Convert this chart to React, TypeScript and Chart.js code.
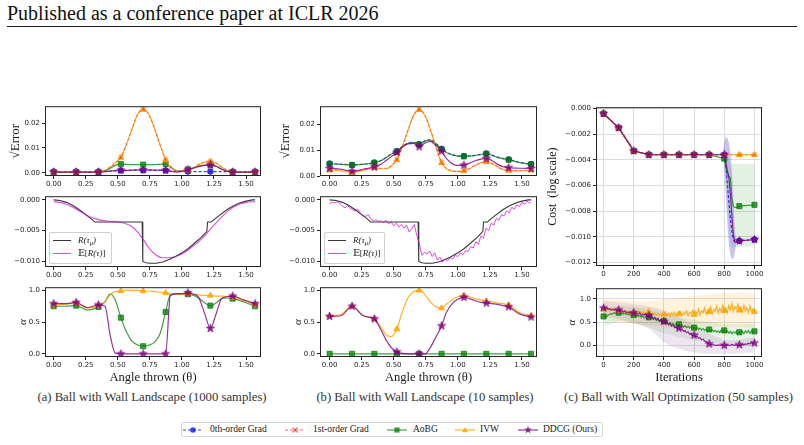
import React, { useEffect, useRef } from 'react';
import { Chart, registerables } from 'chart.js';

Chart.register(...registerables);

// ======================= DATA =======================
// Angle thrown (theta) sample positions for landscape curves
const thetaGrid = [0, 0.087, 0.175, 0.262, 0.349, 0.4, 0.44, 0.48, 0.524, 0.56, 0.61, 0.655, 0.698, 0.745, 0.785, 0.83, 0.873, 0.91, 0.96, 1.0, 1.047, 1.09, 1.13, 1.18, 1.222, 1.265, 1.31, 1.35, 1.396, 1.48, 1.571];
const thetaMarkers = [0, 0.175, 0.349, 0.524, 0.698, 0.873, 1.047, 1.222, 1.396, 1.571];
const thetaTicks = [0, 0.25, 0.5, 0.75, 1.0, 1.25, 1.5];

// (a) sqrt(Error), 1000 samples
const errA_zeroth = [0.0005, 0.0005, 0.0005, 0.0005, 0.0005, 0.0006, 0.0007, 0.0008, 0.0009, 0.0009, 0.0010, 0.0010, 0.0010, 0.0010, 0.0010, 0.0010, 0.0009, 0.0007, 0.0006, 0.0005, 0.0005, 0.0005, 0.0005, 0.0005, 0.0005, 0.0005, 0.0005, 0.0005, 0.0005, 0.0005, 0.0005];
const errA_first = [0.0003, 0.0003, 0.0003, 0.0003, 0.0004, 0.0010, 0.0022, 0.0040, 0.0062, 0.0105, 0.0175, 0.0235, 0.0256, 0.0232, 0.0180, 0.0112, 0.0052, 0.0022, 0.0008, 0.0006, 0.0010, 0.0020, 0.0033, 0.0044, 0.0048, 0.0041, 0.0024, 0.0011, 0.0004, 0.0003, 0.0003];
const errA_aobg = [0.0002, 0.0002, 0.0002, 0.0002, 0.0002, 0.0006, 0.0018, 0.0030, 0.0035, 0.0034, 0.0033, 0.0033, 0.0033, 0.0033, 0.0033, 0.0034, 0.0035, 0.0025, 0.0008, 0.0008, 0.0014, 0.0020, 0.0027, 0.0031, 0.0032, 0.0027, 0.0015, 0.0006, 0.0003, 0.0002, 0.0002];
const errA_ivw = [0.0003, 0.0003, 0.0003, 0.0003, 0.0004, 0.0010, 0.0022, 0.0040, 0.0062, 0.0105, 0.0175, 0.0235, 0.0255, 0.0232, 0.0180, 0.0112, 0.0052, 0.0022, 0.0007, 0.0006, 0.0010, 0.0020, 0.0032, 0.0042, 0.0045, 0.0038, 0.0022, 0.0010, 0.0004, 0.0003, 0.0003];
const errA_ddcg = [0.0003, 0.0003, 0.0003, 0.0003, 0.0003, 0.0004, 0.0007, 0.0009, 0.0010, 0.0010, 0.0011, 0.0012, 0.0012, 0.0012, 0.0011, 0.0011, 0.0010, 0.0006, 0.0003, 0.0006, 0.0012, 0.0018, 0.0025, 0.0030, 0.0031, 0.0026, 0.0014, 0.0006, 0.0003, 0.0003, 0.0003];

// (b) sqrt(Error), 10 samples
const errB_zeroth = [0.0048, 0.0046, 0.0043, 0.0046, 0.0052, 0.0060, 0.0072, 0.0085, 0.0096, 0.0112, 0.0127, 0.0130, 0.0123, 0.0137, 0.0140, 0.0125, 0.0105, 0.0092, 0.0082, 0.0078, 0.0077, 0.0078, 0.0080, 0.0084, 0.0087, 0.0081, 0.0073, 0.0068, 0.0064, 0.0053, 0.0046];
const errB_first = [0.0028, 0.0026, 0.0018, 0.0024, 0.0032, 0.0030, 0.0030, 0.0040, 0.0063, 0.0105, 0.0175, 0.0235, 0.0257, 0.0232, 0.0180, 0.0110, 0.0052, 0.0030, 0.0020, 0.0018, 0.0021, 0.0029, 0.0041, 0.0051, 0.0055, 0.0049, 0.0036, 0.0026, 0.0022, 0.0021, 0.0022];
const errB_aobg = [0.0047, 0.0045, 0.0042, 0.0045, 0.0051, 0.0059, 0.0071, 0.0084, 0.0095, 0.0111, 0.0126, 0.0129, 0.0122, 0.0136, 0.0139, 0.0124, 0.0103, 0.0091, 0.0081, 0.0077, 0.0076, 0.0077, 0.0079, 0.0083, 0.0086, 0.0080, 0.0072, 0.0067, 0.0063, 0.0052, 0.0045];
const errB_ivw = [0.0022, 0.0020, 0.0013, 0.0021, 0.0031, 0.0028, 0.0028, 0.0038, 0.0063, 0.0105, 0.0175, 0.0235, 0.0256, 0.0232, 0.0180, 0.0110, 0.0051, 0.0028, 0.0018, 0.0017, 0.0020, 0.0028, 0.0040, 0.0051, 0.0055, 0.0048, 0.0035, 0.0025, 0.0021, 0.0020, 0.0022];
const errB_ddcg = [0.0029, 0.0026, 0.0018, 0.0026, 0.0035, 0.0045, 0.0060, 0.0075, 0.0091, 0.0108, 0.0124, 0.0126, 0.0113, 0.0128, 0.0134, 0.0118, 0.0096, 0.0068, 0.0046, 0.0041, 0.0042, 0.0050, 0.0058, 0.0065, 0.0068, 0.0060, 0.0045, 0.0036, 0.0032, 0.0030, 0.0029];

// alpha, (a) and (b)
const alphaA_aobg = [0.75, 0.75, 0.76, 0.69, 0.74, 0.82, 0.94, 0.85, 0.57, 0.38, 0.20, 0.14, 0.12, 0.14, 0.18, 0.32, 0.66, 0.93, 0.94, 0.94, 0.94, 0.92, 0.88, 0.80, 0.76, 0.80, 0.87, 0.88, 0.87, 0.82, 0.75];
const alphaA_ivw = [0.77, 0.78, 0.80, 0.72, 0.76, 0.82, 0.93, 0.98, 0.99, 1.00, 1.00, 1.00, 0.99, 0.99, 0.98, 0.97, 0.96, 0.95, 0.94, 0.94, 0.95, 0.94, 0.93, 0.92, 0.92, 0.91, 0.91, 0.90, 0.89, 0.84, 0.77];
const alphaA_ddcg = [0.79, 0.79, 0.81, 0.73, 0.77, 0.75, 0.30, 0.01, 0.00, 0.00, 0.00, 0.00, 0.00, 0.00, 0.00, 0.00, 0.00, 0.92, 0.95, 0.95, 0.96, 0.94, 0.89, 0.62, 0.40, 0.62, 0.87, 0.90, 0.91, 0.85, 0.79];
const alphaB_aobg = [0, 0, 0, 0, 0, 0, 0, 0, 0, 0, 0, 0, 0, 0, 0, 0, 0, 0, 0, 0, 0, 0, 0, 0, 0, 0, 0, 0, 0, 0, 0];
const alphaB_ivw = [0.60, 0.62, 0.75, 0.60, 0.55, 0.42, 0.30, 0.27, 0.39, 0.62, 0.88, 0.98, 1.00, 0.93, 0.82, 0.74, 0.72, 0.78, 0.86, 0.90, 0.92, 0.90, 0.87, 0.85, 0.83, 0.82, 0.80, 0.79, 0.77, 0.65, 0.60];
const alphaB_ddcg = [0.59, 0.60, 0.75, 0.60, 0.55, 0.38, 0.22, 0.10, 0.03, 0.01, 0.00, 0.00, 0.00, 0.00, 0.10, 0.27, 0.44, 0.65, 0.80, 0.86, 0.89, 0.87, 0.84, 0.81, 0.80, 0.79, 0.78, 0.76, 0.74, 0.63, 0.58];

// Reward landscape R(tau_mu)
const rewardMuTheta = [0, 0.05, 0.10, 0.15, 0.20, 0.25, 0.30, 0.32, 0.40, 0.50, 0.60, 0.69, 0.695, 0.72, 0.75, 0.80, 0.85, 0.90, 0.95, 1.00, 1.05, 1.10, 1.15, 1.195, 1.20, 1.23, 1.25, 1.30, 1.35, 1.40, 1.45, 1.50, 1.55, 1.571];
const rewardMu = [0.0000, -0.0001, -0.0004, -0.0009, -0.0016, -0.0024, -0.0032, -0.0036, -0.0036, -0.0036, -0.0036, -0.0036, -0.0100, -0.0102, -0.0103, -0.0103, -0.0101, -0.0097, -0.0092, -0.0086, -0.0079, -0.0070, -0.0061, -0.0051, -0.0036, -0.0036, -0.0032, -0.0024, -0.0016, -0.0010, -0.0005, -0.0002, 0.0000, 0.0000];
// E[R(tau)], 1000 samples
const expRewardATheta = [0, 0.05, 0.10, 0.15, 0.20, 0.25, 0.30, 0.35, 0.40, 0.45, 0.50, 0.55, 0.60, 0.65, 0.70, 0.75, 0.80, 0.85, 0.90, 0.95, 1.00, 1.05, 1.10, 1.15, 1.20, 1.25, 1.30, 1.35, 1.40, 1.45, 1.50, 1.55, 1.571];
const expRewardA = [-0.0003, -0.0004, -0.0007, -0.0012, -0.0018, -0.0024, -0.0029, -0.0032, -0.0034, -0.0035, -0.0036, -0.0038, -0.0042, -0.0051, -0.0065, -0.0080, -0.0090, -0.0094, -0.0094, -0.0092, -0.0088, -0.0081, -0.0073, -0.0064, -0.0053, -0.0041, -0.0030, -0.0020, -0.0012, -0.0007, -0.0004, -0.0003, -0.0003];
// E[R(tau)], 10 samples
const expRewardBTheta = [
  0, 0.02, 0.04, 0.06, 0.08, 0.1, 0.12, 0.14, 0.16, 0.18,
  0.2, 0.22, 0.24, 0.26, 0.28, 0.3, 0.32, 0.34, 0.36, 0.38,
  0.4, 0.42, 0.44, 0.46, 0.48, 0.5, 0.52, 0.54, 0.56, 0.58,
  0.6, 0.62, 0.64, 0.66, 0.68, 0.7, 0.72, 0.74, 0.76, 0.78,
  0.8, 0.82, 0.84, 0.86, 0.88, 0.9, 0.92, 0.94, 0.96, 0.98,
  1.0, 1.02, 1.04, 1.06, 1.08, 1.1, 1.12, 1.14, 1.16, 1.18,
  1.2, 1.22, 1.24, 1.26, 1.28, 1.3, 1.32, 1.34, 1.36, 1.38,
  1.4, 1.42, 1.44, 1.46, 1.48, 1.5, 1.52, 1.54, 1.56, 1.571];
const expRewardB = [
  -0.0006, -0.0004, -0.0005, -0.0003, -0.0006, -0.0010, -0.0013, -0.0009, -0.0014, -0.0016,
  -0.0018, -0.0015, -0.0022, -0.0025, -0.0027, -0.0024, -0.0031, -0.0034, -0.0032, -0.0035,
  -0.0034, -0.0037, -0.0033, -0.0039, -0.0036, -0.0042, -0.0038, -0.0044, -0.0040, -0.0046,
  -0.0041, -0.0052, -0.0047, -0.0040, -0.0058, -0.0072, -0.0090, -0.0085, -0.0088, -0.0083,
  -0.0092, -0.0086, -0.0098, -0.0093, -0.0101, -0.0096, -0.0099, -0.0094, -0.0096, -0.0090,
  -0.0092, -0.0086, -0.0089, -0.0082, -0.0084, -0.0076, -0.0078, -0.0068, -0.0072, -0.0058,
  -0.0062, -0.0046, -0.0050, -0.0038, -0.0041, -0.0030, -0.0033, -0.0024, -0.0026, -0.0018,
  -0.0021, -0.0012, -0.0015, -0.0008, -0.0011, -0.0004, -0.0007, -0.0002, -0.0005, -0.0004];

// (c) cost over iterations
const costIters = [0, 100, 200, 300, 400, 500, 600, 700, 800, 810, 820, 830, 840, 850, 860, 870, 880, 890, 900, 1000];
const iterMarkers = [0, 100, 200, 300, 400, 500, 600, 700, 800, 900, 1000];
const cost_zeroth = [-0.0004, -0.0015, -0.0033, -0.0036, -0.0036, -0.0036, -0.0036, -0.0036, -0.0036, -0.0042, -0.0058, -0.0072, -0.0085, -0.0095, -0.0102, -0.0104, -0.0104, -0.0104, -0.0103, -0.0102];
const cost_first = [-0.0004, -0.0015, -0.0033, -0.0036, -0.0036, -0.0036, -0.0036, -0.0036, -0.0036, -0.0036, -0.0036, -0.0036, -0.0036, -0.0036, -0.0036, -0.0036, -0.0036, -0.0036, -0.0036, -0.0036];
const cost_aobg = [-0.0004, -0.0015, -0.0033, -0.0036, -0.0036, -0.0036, -0.0036, -0.0036, -0.0039, -0.0045, -0.0050, -0.0053, -0.0054, -0.0070, -0.0076, -0.0077, -0.0077, -0.0077, -0.0076, -0.0075];
const cost_ivw = [-0.0004, -0.0015, -0.0033, -0.0036, -0.0036, -0.0036, -0.0036, -0.0036, -0.0036, -0.0036, -0.0036, -0.0036, -0.0036, -0.0036, -0.0036, -0.0036, -0.0036, -0.0036, -0.0036, -0.0036];
const cost_ddcg = [-0.0004, -0.0015, -0.0033, -0.0036, -0.0036, -0.0036, -0.0036, -0.0036, -0.0036, -0.0042, -0.0048, -0.0053, -0.0066, -0.0083, -0.0098, -0.0104, -0.0104, -0.0104, -0.0103, -0.0102];
const costBandAobgIters = [790, 800, 810, 820, 830, 840, 850, 900, 950, 1000];
const costBandAobgHi = [-0.0036, -0.0033, -0.0032, -0.0036, -0.0040, -0.0043, -0.0043, -0.0043, -0.0043, -0.0043];
const costBandAobgLo = [-0.0036, -0.0045, -0.0055, -0.0070, -0.0090, -0.0105, -0.0108, -0.0108, -0.0108, -0.0107];
const costBandZerothIters = [790, 800, 810, 820, 830, 840, 850, 860, 870, 880];
const costBandZerothHi = [-0.0036, -0.0026, -0.0022, -0.0023, -0.0026, -0.0034, -0.0048, -0.0070, -0.0095, -0.0104];
const costBandZerothLo = [-0.0036, -0.0046, -0.0066, -0.0088, -0.0105, -0.0114, -0.0117, -0.0117, -0.0112, -0.0104];

// (c) alpha over iterations
const alphaIters = [
  0, 10, 20, 30, 40, 50, 60, 70, 80, 90, 100,
  110, 120, 130, 140, 150, 160, 170, 180, 190, 200,
  210, 220, 230, 240, 250, 260, 270, 280, 290, 300,
  310, 320, 330, 340, 350, 360, 370, 380, 390, 400,
  410, 420, 430, 440, 450, 460, 470, 480, 490, 500,
  510, 520, 530, 540, 550, 560, 570, 580, 590, 600,
  610, 620, 630, 640, 650, 660, 670, 680, 690, 700,
  710, 720, 730, 740, 750, 760, 770, 780, 790, 800,
  810, 820, 830, 840, 850, 860, 870, 880, 890, 900,
  910, 920, 930, 940, 950, 960, 970, 980, 990, 1000];
const alphaIter_ivw = [
  0.78, 0.80, 0.76, 0.79, 0.74, 0.77, 0.75, 0.78, 0.73, 0.76, 0.74,
  0.77, 0.72, 0.75, 0.71, 0.74, 0.70, 0.73, 0.69, 0.72, 0.70,
  0.73, 0.68, 0.71, 0.74, 0.69, 0.72, 0.67, 0.71, 0.69, 0.72,
  0.68, 0.70, 0.66, 0.69, 0.65, 0.68, 0.64, 0.67, 0.63, 0.66,
  0.69, 0.64, 0.68, 0.62, 0.70, 0.65, 0.71, 0.63, 0.69, 0.67,
  0.72, 0.64, 0.70, 0.66, 0.74, 0.63, 0.71, 0.68, 0.75, 0.66,
  0.73, 0.67, 0.78, 0.65, 0.74, 0.70, 0.80, 0.66, 0.76, 0.72,
  0.82, 0.68, 0.77, 0.73, 0.84, 0.69, 0.79, 0.72, 0.86, 0.74,
  0.80, 0.70, 0.85, 0.76, 0.90, 0.72, 0.83, 0.78, 0.88, 0.75,
  0.82, 0.71, 0.86, 0.74, 0.80, 0.70, 0.84, 0.73, 0.78, 0.72];
const alphaIter_aobg = [
  0.62, 0.63, 0.61, 0.65, 0.66, 0.68, 0.67, 0.70, 0.69, 0.71, 0.70,
  0.68, 0.71, 0.67, 0.69, 0.66, 0.68, 0.65, 0.67, 0.64, 0.65,
  0.63, 0.66, 0.62, 0.64, 0.60, 0.63, 0.59, 0.62, 0.58, 0.60,
  0.57, 0.59, 0.55, 0.58, 0.53, 0.56, 0.51, 0.54, 0.49, 0.52,
  0.48, 0.51, 0.46, 0.49, 0.45, 0.47, 0.43, 0.46, 0.42, 0.45,
  0.41, 0.44, 0.39, 0.42, 0.38, 0.41, 0.37, 0.40, 0.36, 0.38,
  0.35, 0.38, 0.34, 0.37, 0.33, 0.36, 0.32, 0.35, 0.31, 0.34,
  0.30, 0.33, 0.29, 0.32, 0.28, 0.31, 0.27, 0.33, 0.29, 0.32,
  0.28, 0.31, 0.26, 0.30, 0.25, 0.29, 0.26, 0.30, 0.24, 0.28,
  0.26, 0.30, 0.25, 0.31, 0.27, 0.32, 0.26, 0.31, 0.28, 0.30];
const alphaIter_ddcg = [
  0.80, 0.78, 0.81, 0.77, 0.79, 0.76, 0.78, 0.75, 0.77, 0.74, 0.76,
  0.73, 0.75, 0.71, 0.74, 0.70, 0.72, 0.69, 0.71, 0.68, 0.70,
  0.67, 0.69, 0.66, 0.70, 0.64, 0.67, 0.65, 0.68, 0.62, 0.64,
  0.61, 0.63, 0.58, 0.60, 0.55, 0.58, 0.52, 0.55, 0.49, 0.51,
  0.47, 0.50, 0.44, 0.46, 0.41, 0.44, 0.38, 0.40, 0.35, 0.37,
  0.33, 0.35, 0.30, 0.32, 0.27, 0.29, 0.24, 0.26, 0.21, 0.22,
  0.18, 0.20, 0.15, 0.16, 0.12, 0.13, 0.09, 0.08, 0.05, 0.03,
  0.02, 0.01, 0.01, 0.00, 0.00, 0.01, 0.00, 0.00, 0.00, 0.00,
  0.00, 0.01, 0.00, 0.00, 0.02, 0.00, 0.01, 0.00, 0.00, 0.01,
  0.00, 0.02, 0.01, 0.03, 0.02, 0.05, 0.03, 0.06, 0.04, 0.05];
const alphaBandIters = [0, 50, 100, 150, 200, 250, 300, 350, 400, 450, 500, 550, 600, 650, 700, 750, 800, 850, 900, 950, 1000];
const alphaBand_ivwHi = [0.98, 0.98, 0.97, 0.95, 0.94, 0.94, 0.95, 0.96, 0.98, 1.00, 1.02, 1.04, 1.06, 1.08, 1.10, 1.11, 1.12, 1.13, 1.14, 1.13, 1.12];
const alphaBand_ivwLo = [0.55, 0.52, 0.50, 0.48, 0.46, 0.44, 0.42, 0.40, 0.38, 0.38, 0.38, 0.38, 0.38, 0.38, 0.38, 0.38, 0.40, 0.40, 0.40, 0.38, 0.36];
const alphaBand_aobgHi = [0.80, 0.82, 0.85, 0.84, 0.82, 0.80, 0.78, 0.74, 0.70, 0.66, 0.62, 0.58, 0.55, 0.52, 0.50, 0.48, 0.46, 0.45, 0.44, 0.45, 0.46];
const alphaBand_aobgLo = [0.42, 0.45, 0.52, 0.50, 0.46, 0.42, 0.38, 0.32, 0.26, 0.22, 0.18, 0.14, 0.10, 0.08, 0.06, 0.04, 0.02, 0.00, -0.02, -0.02, -0.02];
const alphaBand_ddcgHi = [0.95, 0.94, 0.92, 0.90, 0.88, 0.86, 0.84, 0.80, 0.75, 0.68, 0.60, 0.52, 0.44, 0.35, 0.25, 0.18, 0.12, 0.10, 0.12, 0.15, 0.18];
const alphaBand_ddcgLo = [0.62, 0.60, 0.56, 0.52, 0.48, 0.44, 0.36, 0.22, 0.06, -0.02, -0.08, -0.12, -0.15, -0.17, -0.18, -0.18, -0.18, -0.18, -0.17, -0.16, -0.15];

// Tick labels
const errTicks = [0, 0.01, 0.02];
const rewardTicks = [0, -0.005, -0.01];
const alphaTicks = [0, 0.5, 1.0];
const iterTicks = [0, 200, 400, 600, 800, 1000];
const costTicks = [0, -0.002, -0.004, -0.006, -0.008, -0.010, -0.012];

// Legend labels
const methodLabels = ['0th-order Grad', '1st-order Grad', 'AoBG', 'IVW', 'DDCG (Ours)'];
const captions = ['(a) Ball with Wall Landscape (1000 samples)', '(b) Ball with Wall Landscape (10 samples)', '(c) Ball with Wall Optimization (50 samples)'];

// ======================= STYLE =======================
const C_ZERO = 'rgba(0,0,255,0.75)';
const C_FIRST = 'rgba(255,0,0,0.4)';
const C_AOBG = 'rgba(0,128,0,0.75)';
const C_IVW = 'rgba(255,165,0,0.85)';
const C_DDCG = 'rgba(128,0,128,0.8)';
const C_BLACK = 'rgba(20,20,20,0.85)';
const C_MAGENTA = 'rgba(204,0,204,0.7)';
const SERIF = '"Liberation Serif", "DejaVu Serif", serif';
const TICK_FONT = { family: 'DejaVu Sans', size: 7 };
const PAD_T = 6;
const PAD_R = 14;

const minus = (s: string) => s.replace('-', '\u2212');
const f1 = (v: number) => minus(v.toFixed(1));
const f2 = (v: number) => minus(v.toFixed(2));
const f3 = (v: number) => minus(Math.abs(v) < 1e-12 ? '0.000' : v.toFixed(3));
const fi = (v: number) => String(Math.round(v));

function makeStar(color: string, R: number): HTMLCanvasElement {
  const s = Math.ceil(R * 2 + 2);
  const c = document.createElement('canvas');
  c.width = s; c.height = s;
  const g = c.getContext('2d')!;
  g.beginPath();
  for (let i = 0; i < 10; i++) {
    const rr = i % 2 === 0 ? R : R * 0.42;
    const a = -Math.PI / 2 + (i * Math.PI) / 5;
    const px = s / 2 + rr * Math.cos(a);
    const py = s / 2 + rr * Math.sin(a);
    if (i === 0) g.moveTo(px, py); else g.lineTo(px, py);
  }
  g.closePath();
  g.fillStyle = color; g.fill();
  g.strokeStyle = color; g.lineWidth = 0.8; g.stroke();
  return c;
}

type SeriesOpt = { xs: number[]; ys: number[]; color: string; marks?: number[]; style?: any; radius?: number; dash?: number[]; width?: number; smooth?: boolean };
function series(o: SeriesOpt) {
  const data = o.xs.map((x, i) => ({ x, y: o.ys[i] }));
  const marks = o.marks || [];
  const radii = data.map((d) => (marks.some((m) => Math.abs(m - d.x) < 1e-6) ? (o.radius ?? 3) : 0));
  return {
    data,
    borderColor: o.color,
    backgroundColor: o.color,
    borderWidth: o.width ?? 1.2,
    borderDash: o.dash ?? [],
    pointStyle: o.style ?? 'circle',
    pointRadius: radii,
    pointHoverRadius: radii,
    pointBackgroundColor: o.color,
    pointBorderColor: o.color,
    pointBorderWidth: 1,
    tension: o.smooth ? 0.4 : 0,
    cubicInterpolationMode: o.smooth ? 'monotone' : 'default',
    fill: false,
  };
}
function band(xs: number[], lo: number[], hi: number[], color: string) {
  // bottom-to-top order: lower edge then upper edge (filled to the lower edge)
  return [
    { data: xs.map((x, i) => ({ x, y: lo[i] })), borderWidth: 0, borderColor: 'transparent', pointRadius: 0, fill: false, backgroundColor: color, tension: 0 },
    { data: xs.map((x, i) => ({ x, y: hi[i] })), borderWidth: 0, borderColor: 'transparent', pointRadius: 0, fill: '+1', backgroundColor: color, tension: 0 },
  ];
}

type Rect = { l: number; t: number; r: number; b: number };
type Axis = { min: number; max: number; ticks: number[]; fmt: (v: number) => string };
type Spec = {
  id: string; rect: Rect; padL: number; padB: number; x: Axis; y: Axis; grid?: boolean;
  yTitle?: { text: string; cx: number; size: number; italic?: boolean };
  xTitle?: { text: string; cy: number; size: number };
  build: (star: HTMLCanvasElement) => any[]; // bottom-to-top
};

const thetaAxisA: Axis = { min: -0.068, max: 1.617, ticks: thetaTicks, fmt: f2 };
const thetaAxisB: Axis = { min: -0.075, max: 1.617, ticks: thetaTicks, fmt: f2 };
const iterAxis: Axis = { min: -50, max: 1050, ticks: iterTicks, fmt: fi };

const errSeries = (z: number[], f: number[], a: number[], iv: number[], d: number[]) => (star: HTMLCanvasElement) => [
  series({ xs: thetaGrid, ys: z, color: C_ZERO, marks: thetaMarkers, style: 'circle', radius: 2.8, dash: [3, 2], smooth: true }),
  series({ xs: thetaGrid, ys: a, color: C_AOBG, marks: thetaMarkers, style: 'rect', radius: 3.6, smooth: true }),
  series({ xs: thetaGrid, ys: iv, color: C_IVW, marks: thetaMarkers, style: 'triangle', radius: 3.4, smooth: true }),
  series({ xs: thetaGrid, ys: f, color: C_FIRST, marks: thetaMarkers, style: 'crossRot', radius: 3.4, dash: [3, 2], smooth: true }),
  series({ xs: thetaGrid, ys: d, color: C_DDCG, marks: thetaMarkers, style: star, radius: 3, smooth: true }),
];
const alphaSeries = (a: number[], iv: number[], d: number[]) => (star: HTMLCanvasElement) => [
  series({ xs: thetaGrid, ys: a, color: C_AOBG, marks: thetaMarkers, style: 'rect', radius: 3.6, smooth: true }),
  series({ xs: thetaGrid, ys: iv, color: C_IVW, marks: thetaMarkers, style: 'triangle', radius: 3.4, smooth: true }),
  series({ xs: thetaGrid, ys: d, color: C_DDCG, marks: thetaMarkers, style: star, radius: 3, smooth: true }),
];

const specs: Spec[] = [
  {
    id: 'a1', rect: { l: 45, t: 106, r: 261, b: 176 }, padL: 40, padB: 14,
    x: thetaAxisA, y: { min: -0.0013, max: 0.0268, ticks: errTicks, fmt: f2 },
    yTitle: { text: '\u221AError', cx: 16, size: 13 },
    build: errSeries(errA_zeroth, errA_first, errA_aobg, errA_ivw, errA_ddcg),
  },
  {
    id: 'a2', rect: { l: 45, t: 196, r: 261, b: 267 }, padL: 40, padB: 14,
    x: thetaAxisA, y: { min: -0.0109, max: 0.0006, ticks: rewardTicks, fmt: f3 },
    build: () => [
      series({ xs: rewardMuTheta, ys: rewardMu, color: C_BLACK, width: 1.1 }),
      series({ xs: expRewardATheta, ys: expRewardA, color: C_MAGENTA, width: 1.1, smooth: true }),
    ],
  },
  {
    id: 'a3', rect: { l: 45, t: 287, r: 261, b: 357 }, padL: 40, padB: 28,
    x: thetaAxisA, y: { min: -0.05, max: 1.05, ticks: alphaTicks, fmt: f1 },
    yTitle: { text: '\u03B1', cx: 23, size: 11, italic: true },
    xTitle: { text: 'Angle thrown (\u03B8)', cy: 378.5, size: 12.6 },
    build: alphaSeries(alphaA_aobg, alphaA_ivw, alphaA_ddcg),
  },
  {
    id: 'b1', rect: { l: 320, t: 106, r: 537, b: 176 }, padL: 42, padB: 14,
    x: thetaAxisB, y: { min: 0.0, max: 0.0270, ticks: errTicks, fmt: f2 },
    yTitle: { text: '\u221AError', cx: 286, size: 13 },
    build: errSeries(errB_zeroth, errB_first, errB_aobg, errB_ivw, errB_ddcg),
  },
  {
    id: 'b2', rect: { l: 320, t: 196, r: 537, b: 267 }, padL: 42, padB: 14,
    x: thetaAxisB, y: { min: -0.0109, max: 0.0006, ticks: rewardTicks, fmt: f3 },
    build: () => [
      series({ xs: rewardMuTheta, ys: rewardMu, color: C_BLACK, width: 1.1 }),
      series({ xs: expRewardBTheta, ys: expRewardB, color: C_MAGENTA, width: 1.0 }),
    ],
  },
  {
    id: 'b3', rect: { l: 320, t: 287, r: 537, b: 357 }, padL: 42, padB: 28,
    x: thetaAxisB, y: { min: -0.05, max: 1.05, ticks: alphaTicks, fmt: f1 },
    yTitle: { text: '\u03B1', cx: 298, size: 11, italic: true },
    xTitle: { text: 'Angle thrown (\u03B8)', cy: 378.5, size: 12.6 },
    build: alphaSeries(alphaB_aobg, alphaB_ivw, alphaB_ddcg),
  },
  {
    id: 'c1', rect: { l: 596, t: 107, r: 762, b: 266 }, padL: 52, padB: 14, grid: true,
    x: iterAxis, y: { min: -0.01226, max: 0.0001, ticks: costTicks, fmt: f3 },
    yTitle: { text: 'Cost  (log scale)', cx: 552.5, size: 12 },
    build: (star) => [
      ...band(costBandAobgIters, costBandAobgLo, costBandAobgHi, 'rgba(0,128,0,0.11)'),
      ...band(costBandZerothIters, costBandZerothLo, costBandZerothHi, 'rgba(100,80,200,0.35)'),
      series({ xs: costIters, ys: cost_zeroth, color: C_ZERO, marks: iterMarkers, style: 'circle', radius: 2.8, dash: [3, 2] }),
      series({ xs: costIters, ys: cost_aobg, color: C_AOBG, marks: iterMarkers, style: 'rect', radius: 3.6 }),
      series({ xs: costIters, ys: cost_ivw, color: C_IVW, marks: iterMarkers, style: 'triangle', radius: 3.4 }),
      series({ xs: costIters, ys: cost_first, color: C_FIRST, marks: iterMarkers, style: 'crossRot', radius: 3.4, dash: [3, 2] }),
      series({ xs: costIters, ys: cost_ddcg, color: C_DDCG, marks: iterMarkers, style: star, radius: 3 }),
    ],
  },
  {
    id: 'c2', rect: { l: 596, t: 288, r: 762, b: 357 }, padL: 52, padB: 28, grid: true,
    x: iterAxis, y: { min: -0.25, max: 1.225, ticks: alphaTicks, fmt: f1 },
    yTitle: { text: '\u03B1', cx: 572.5, size: 11, italic: true },
    xTitle: { text: 'Iterations', cy: 377.5, size: 12.6 },
    build: (star) => [
      ...band(alphaBandIters, alphaBand_ivwLo, alphaBand_ivwHi, 'rgba(255,165,0,0.13)'),
      ...band(alphaBandIters, alphaBand_aobgLo, alphaBand_aobgHi, 'rgba(0,128,0,0.09)'),
      ...band(alphaBandIters, alphaBand_ddcgLo, alphaBand_ddcgHi, 'rgba(110,40,130,0.12)'),
      series({ xs: alphaIters, ys: alphaIter_aobg, color: C_AOBG, marks: iterMarkers, style: 'rect', radius: 3.6 }),
      series({ xs: alphaIters, ys: alphaIter_ivw, color: C_IVW, marks: iterMarkers, style: 'triangle', radius: 3.4 }),
      series({ xs: alphaIters, ys: alphaIter_ddcg, color: C_DDCG, marks: iterMarkers, style: star, radius: 3 }),
    ],
  },
];

const framePlugin = {
  id: 'frame',
  afterDraw(chart: any) {
    const { ctx, chartArea } = chart;
    const { left, top, right, bottom } = chartArea;
    ctx.save();
    ctx.strokeStyle = '#262626';
    ctx.lineWidth = 1;
    ctx.strokeRect(left + 0.5, top + 0.5, right - left - 1, bottom - top - 1);
    ctx.restore();
  },
};

function geometry(s: Spec) {
  const w = s.rect.r - s.rect.l + s.padL + PAD_R;
  const h = s.rect.b - s.rect.t + PAD_T + s.padB;
  return { left: s.rect.l - s.padL, top: s.rect.t - PAD_T, w, h };
}

function buildConfig(s: Spec, star: HTMLCanvasElement): any {
  const g = geometry(s);
  const canvasBottom = g.top + g.h;
  const datasets = s.build(star).slice().reverse(); // Chart.js draws index 0 on top
  const yTitle = s.yTitle
    ? {
        display: true, text: s.yTitle.text, color: '#1a1a1a',
        font: { family: SERIF, size: s.yTitle.size, style: s.yTitle.italic ? 'italic' : 'normal', lineHeight: 1.2 },
        padding: { top: Math.max(0, s.yTitle.cx - g.left - s.yTitle.size * 0.6), bottom: 0 },
      }
    : { display: false };
  const xTitle = s.xTitle
    ? {
        display: true, text: s.xTitle.text, color: '#1a1a1a',
        font: { family: SERIF, size: s.xTitle.size, lineHeight: 1.2 },
        padding: { top: 0, bottom: Math.max(0, canvasBottom - s.xTitle.cy - s.xTitle.size * 0.6) },
      }
    : { display: false };
  const gridCfg = {
    display: true, drawOnChartArea: !!s.grid, drawTicks: true, tickLength: 3,
    color: '#dcdcdc', tickColor: '#262626', lineWidth: 1, tickWidth: 1,
  };
  return {
    type: 'line',
    data: { datasets },
    plugins: [framePlugin],
    options: {
      responsive: false, maintainAspectRatio: false, animation: false, devicePixelRatio: 1, events: [],
      layout: { padding: { top: PAD_T, right: PAD_R, left: 0, bottom: 0 } },
      plugins: { legend: { display: false }, tooltip: { enabled: false }, filler: { propagate: false } },
      scales: {
        x: {
          type: 'linear', min: s.x.min, max: s.x.max,
          afterBuildTicks: (sc: any) => { sc.ticks = s.x.ticks.map((v) => ({ value: v })); },
          afterFit: (sc: any) => { sc.height = s.padB; },
          ticks: { autoSkip: false, maxRotation: 0, minRotation: 0, padding: 1, color: '#262626', font: TICK_FONT, callback: (v: any) => s.x.fmt(Number(v)) },
          grid: gridCfg, border: { display: false }, title: xTitle,
        },
        y: {
          type: 'linear', min: s.y.min, max: s.y.max,
          afterBuildTicks: (sc: any) => { sc.ticks = s.y.ticks.map((v) => ({ value: v })); },
          afterFit: (sc: any) => { sc.width = s.padL; },
          ticks: { autoSkip: false, padding: 2, color: '#262626', font: TICK_FONT, callback: (v: any) => s.y.fmt(Number(v)) },
          grid: gridCfg, border: { display: false }, title: yTitle,
        },
      },
    },
  };
}

function ChartPanel({ spec }: { spec: Spec }) {
  const ref = useRef<HTMLCanvasElement>(null);
  useEffect(() => {
    const star = makeStar(C_DDCG, 4.3);
    const chart = new Chart(ref.current as HTMLCanvasElement, buildConfig(spec, star));
    return () => chart.destroy();
  }, [spec]);
  const g = geometry(spec);
  return (
    <canvas ref={ref} width={g.w} height={g.h}
      style={{ position: 'absolute', left: g.left, top: g.top, width: g.w, height: g.h }} />
  );
}

function InnerLegend({ left, top, width }: { left: number; top: number; width: number }) {
  const txt: React.CSSProperties = { position: 'absolute', left: 28, fontFamily: SERIF, fontStyle: 'italic', fontSize: 9, lineHeight: '11px', color: '#1a1a1a', whiteSpace: 'nowrap' };
  return (
    <div style={{ position: 'absolute', left, top, width, height: 32, border: '1px solid #cfcfcf', borderRadius: 2, background: 'rgba(255,255,255,0.85)', boxSizing: 'border-box' }}>
      <div style={{ position: 'absolute', left: 3, top: 7, width: 18, height: 1.2, background: C_BLACK }} />
      <div style={{ ...txt, top: 2 }}>R(τ<span style={{ fontSize: 6.5, verticalAlign: '-2px', lineHeight: 0 }}>μ</span>)</div>
      <div style={{ position: 'absolute', left: 3, top: 20, width: 18, height: 1.2, background: C_MAGENTA }} />
      <div style={{ ...txt, top: 15 }}><span style={{ fontStyle: 'normal' }}>𝔼[</span>R(τ)<span style={{ fontStyle: 'normal' }}>]</span></div>
    </div>
  );
}

function LegendIcon({ color, dash, marker, left }: { color: string; dash?: boolean; marker: string; left: number }) {
  const cx = 10, cy = 5;
  let m: React.ReactNode = null;
  if (marker === 'circle') m = <circle cx={cx} cy={cy} r={2.8} fill={color} />;
  if (marker === 'x') m = (<g stroke={color} strokeWidth={1.2}><line x1={cx - 2.5} y1={cy - 2.5} x2={cx + 2.5} y2={cy + 2.5} /><line x1={cx - 2.5} y1={cy + 2.5} x2={cx + 2.5} y2={cy - 2.5} /></g>);
  if (marker === 'square') m = <rect x={cx - 2.6} y={cy - 2.6} width={5.2} height={5.2} fill={color} />;
  if (marker === 'triangle') m = <polygon points={`${cx},${cy - 3} ${cx + 3},${cy + 2.3} ${cx - 3},${cy + 2.3}`} fill={color} />;
  if (marker === 'star') {
    const pts: string[] = [];
    for (let i = 0; i < 10; i++) {
      const rr = i % 2 === 0 ? 4 : 1.7;
      const a = -Math.PI / 2 + (i * Math.PI) / 5;
      pts.push(`${(cx + rr * Math.cos(a)).toFixed(2)},${(cy + rr * Math.sin(a)).toFixed(2)}`);
    }
    m = <polygon points={pts.join(' ')} fill={color} />;
  }
  return (
    <svg width={20} height={10} style={{ position: 'absolute', left, top: 424.5 }}>
      <line x1={0} y1={cy} x2={20} y2={cy} stroke={color} strokeWidth={1.2} strokeDasharray={dash ? '3,2' : undefined} />
      {m}
    </svg>
  );
}

function BottomLegend() {
  const items = [
    { color: C_ZERO, dash: true, marker: 'circle', icon: 183, text: 210 },
    { color: 'rgba(255,0,0,0.6)', dash: true, marker: 'x', icon: 285, text: 313 },
    { color: C_AOBG, dash: false, marker: 'square', icon: 387, text: 413 },
    { color: C_IVW, dash: false, marker: 'triangle', icon: 455, text: 480 },
    { color: C_DDCG, dash: false, marker: 'star', icon: 518, text: 543 },
  ];
  return (
    <>
      <div style={{ position: 'absolute', left: 181, top: 422, width: 422, height: 15, border: '1px solid #d4d4d4', borderRadius: 2, boxSizing: 'border-box', background: '#fff' }} />
      {items.map((it, i) => (
        <React.Fragment key={i}>
          <LegendIcon color={it.color} dash={it.dash} marker={it.marker} left={it.icon} />
          <div style={{ position: 'absolute', left: it.text, top: 424, fontFamily: SERIF, fontSize: 9.5, lineHeight: '11px', color: '#1a1a1a', whiteSpace: 'nowrap' }}>{methodLabels[i]}</div>
        </React.Fragment>
      ))}
    </>
  );
}

function Caption({ cx, text }: { cx: number; text: string }) {
  return (
    <div style={{ position: 'absolute', left: cx - 150, top: 389.5, width: 300, textAlign: 'center', fontFamily: SERIF, fontSize: 12.7, lineHeight: '15px', color: '#333', whiteSpace: 'nowrap' }}>{text}</div>
  );
}

export default function App() {
  return (
    <div style={{ position: 'absolute', left: 0, top: 0, width: 804, height: 445, background: '#fff', overflow: 'hidden' }}>
      <div style={{ position: 'absolute', left: 7, top: 3, fontFamily: SERIF, fontSize: 20, lineHeight: '20px', color: '#111', whiteSpace: 'nowrap' }}>
        Published as a conference paper at ICLR 2026
      </div>
      <div style={{ position: 'absolute', left: 7, top: 26, width: 790, height: 1, background: '#222' }} />
      {specs.map((s) => <ChartPanel key={s.id} spec={s} />)}
      <InnerLegend left={49} top={232} width={63} />
      <InnerLegend left={324} top={232} width={61} />
      <Caption cx={152} text={captions[0]} />
      <Caption cx={425} text={captions[1]} />
      <Caption cx={678.5} text={captions[2]} />
      <BottomLegend />
    </div>
  );
}
